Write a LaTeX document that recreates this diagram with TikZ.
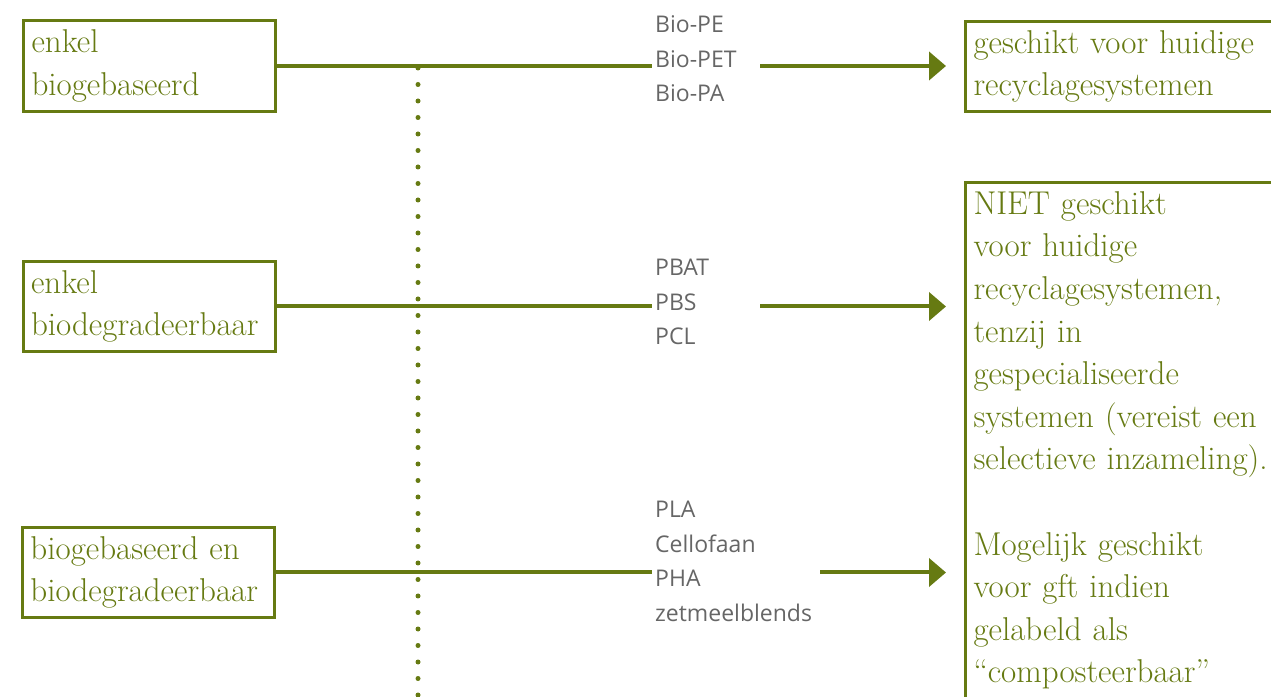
\documentclass[tikz,border=0pt]{standalone}
\usepackage{fontspec}
\newfontfamily\matfont{Open Sans}
\usetikzlibrary{arrows.meta}
\definecolor{oliveGreen}{HTML}{667A12}
\definecolor{matGray}{HTML}{666666}
\tikzset{%
  >={Triangle[length=17pt,width=28pt]},
  % Specifications for style of nodes:
         base/.style = {rectangle, draw=oliveGreen, line width=3pt,
                        text=oliveGreen, align=left, inner xsep=8pt,
                        inner ysep=9pt, font=\fontsize{33}{42.6}\selectfont},
      leftBox/.style = {base, text width=236pt, minimum height=87pt},
     rightBox/.style = {base, text width=300pt, inner xsep=8pt},
     matLabel/.style = {inner sep=3pt, align=left, text=matGray,
                        font=\matfont\fontsize{23}{34.5}\selectfont},
         link/.style = {draw=oliveGreen, line width=4pt},
        arrow/.style = {link, ->, shorten >=18pt},
      dotLine/.style = {draw=oliveGreen, line width=5pt, line cap=round,
                        dash pattern=on 0pt off 16.5pt},
}

\begin{document}
\begin{tikzpicture}[x=1pt, y=1pt]
\useasboundingbox (0,0) rectangle (1271,696);
\clip (0,0) rectangle (1271,696);

\coordinate (dotTop) at (418,628);
\coordinate (dotEnd) at (418,-5);
\draw[dotLine] (dotTop) -- (dotEnd);

% left column
\node (simpleBio) at (149.5,630)   [leftBox] {enkel\\biogebaseerd};
\node (simpleDeg) at (149,389.5)   [leftBox] {enkel\\biodegradeerbaar};
\node (bioDeg)    at (148.5,123.5) [leftBox] {biogebaseerd en\\biodegradeerbaar};

% materials
\node (matBio)  at (652,637)   [matLabel, anchor=west, text width=102pt] {Bio-PE\\Bio-PET\\Bio-PA};
\node (matDeg)  at (652,394)   [matLabel, anchor=west, text width=102pt] {PBAT\\PBS\\PCL};
\node (matBoth) at (652,134.5) [matLabel, anchor=west, text width=162pt] {PLA\\Cellofaan\\PHA\\zetmeelblends};

% right column
\node (fitBox) at (964,676) [rightBox, anchor=north west, minimum height=87pt]
      {geschikt voor huidige\\recyclagesystemen};
\node (recycleBox) at (964,515) [rightBox, anchor=north west]
      {NIET geschikt\\voor huidige\\recyclagesystemen,\\tenzij in\\gespecialiseerde\\systemen (vereist een\\selectieve inzameling).\\[42.6pt]Mogelijk geschikt\\voor gft indien\\gelabeld als\\``composteerbaar''};

\draw[link]  (simpleBio.east) -- (simpleBio.east -| matBio.west);
\draw[arrow] (simpleBio.east -| matBio.east) -- (simpleBio.east -| fitBox.west);

\draw[link]  (simpleDeg.east) -- (simpleDeg.east -| matDeg.west);
\draw[arrow] (simpleDeg.east -| matDeg.east) -- (simpleDeg.east -| recycleBox.west);

\draw[link]  (bioDeg.east) -- (bioDeg.east -| matBoth.west);
\draw[arrow] (bioDeg.east -| matBoth.east) -- (bioDeg.east -| recycleBox.west);
\end{tikzpicture}
\end{document}
